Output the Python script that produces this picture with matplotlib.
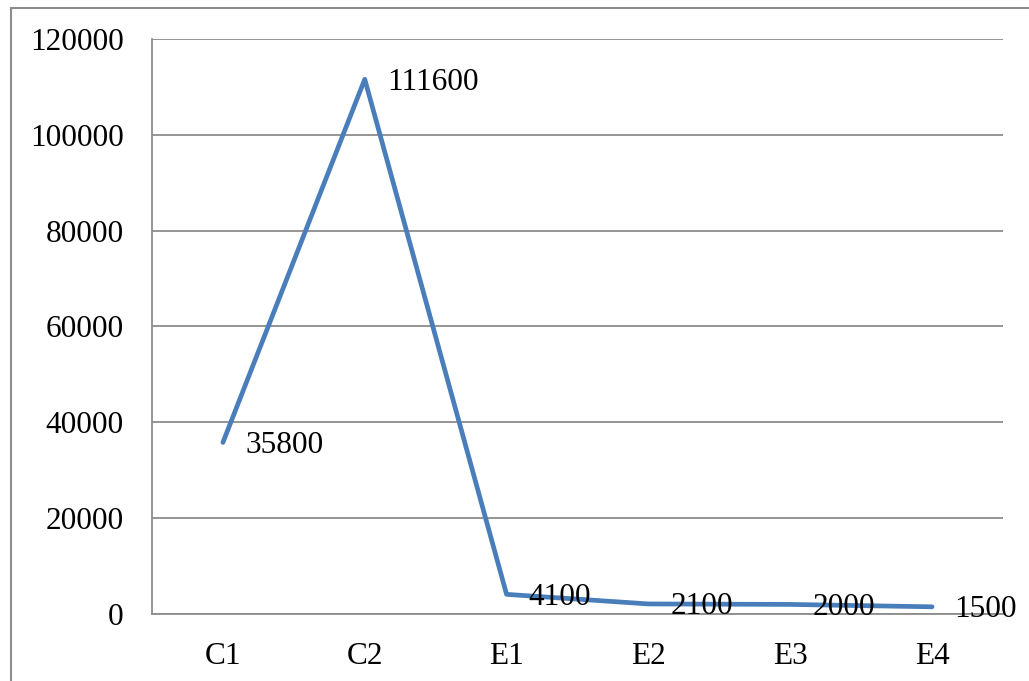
import matplotlib.pyplot as plt
from matplotlib.patches import Rectangle

categories = ['C1', 'C2', 'E1', 'E2', 'E3', 'E4']
values = [35800, 111600, 4100, 2100, 2000, 1500]
yticks = [0, 20000, 40000, 60000, 80000, 100000, 120000]

plt.rcParams['font.family'] = ['Liberation Serif', 'DejaVu Serif']

fig = plt.figure(figsize=(10.29, 6.81), dpi=100)
ax = fig.add_axes([152 / 1029, 1 - 614 / 681, 851 / 1029, 575 / 681])

# outer chart frame
fig.patches.append(Rectangle((11 / 1029, -0.1), 1.2, 1 - 8 / 681 + 0.1,
                             transform=fig.transFigure, fill=False,
                             edgecolor='#8c8c8c', linewidth=1.5))

x = list(range(len(categories)))
ax.plot(x, values, color='#4a7ebb', linewidth=3.4, solid_capstyle='round', zorder=3)

for xi, v in zip(x, values):
    ax.annotate(str(v), (xi, v), xytext=(16, -2), textcoords='offset points',
                ha='left', va='center', fontsize=22.5, zorder=4)

ax.set_xlim(-0.5, len(categories) - 0.5)
ax.set_ylim(0, 120000)
ax.set_yticks(yticks)
ax.set_yticklabels([str(t) for t in yticks])
ax.set_xticks(x)
ax.set_xticklabels(categories)
ax.tick_params(axis='both', length=0, labelsize=22.5)
ax.tick_params(axis='y', pad=20.5)
ax.tick_params(axis='x', pad=20.5)

ax.grid(axis='y', color='#8c8c8c', linewidth=1.3)
ax.set_axisbelow(True)
for s in ['top', 'right']:
    ax.spines[s].set_visible(False)
for s in ['left', 'bottom']:
    ax.spines[s].set_color('#8c8c8c')
    ax.spines[s].set_linewidth(1.3)

fig.savefig('out.png', dpi=100)
